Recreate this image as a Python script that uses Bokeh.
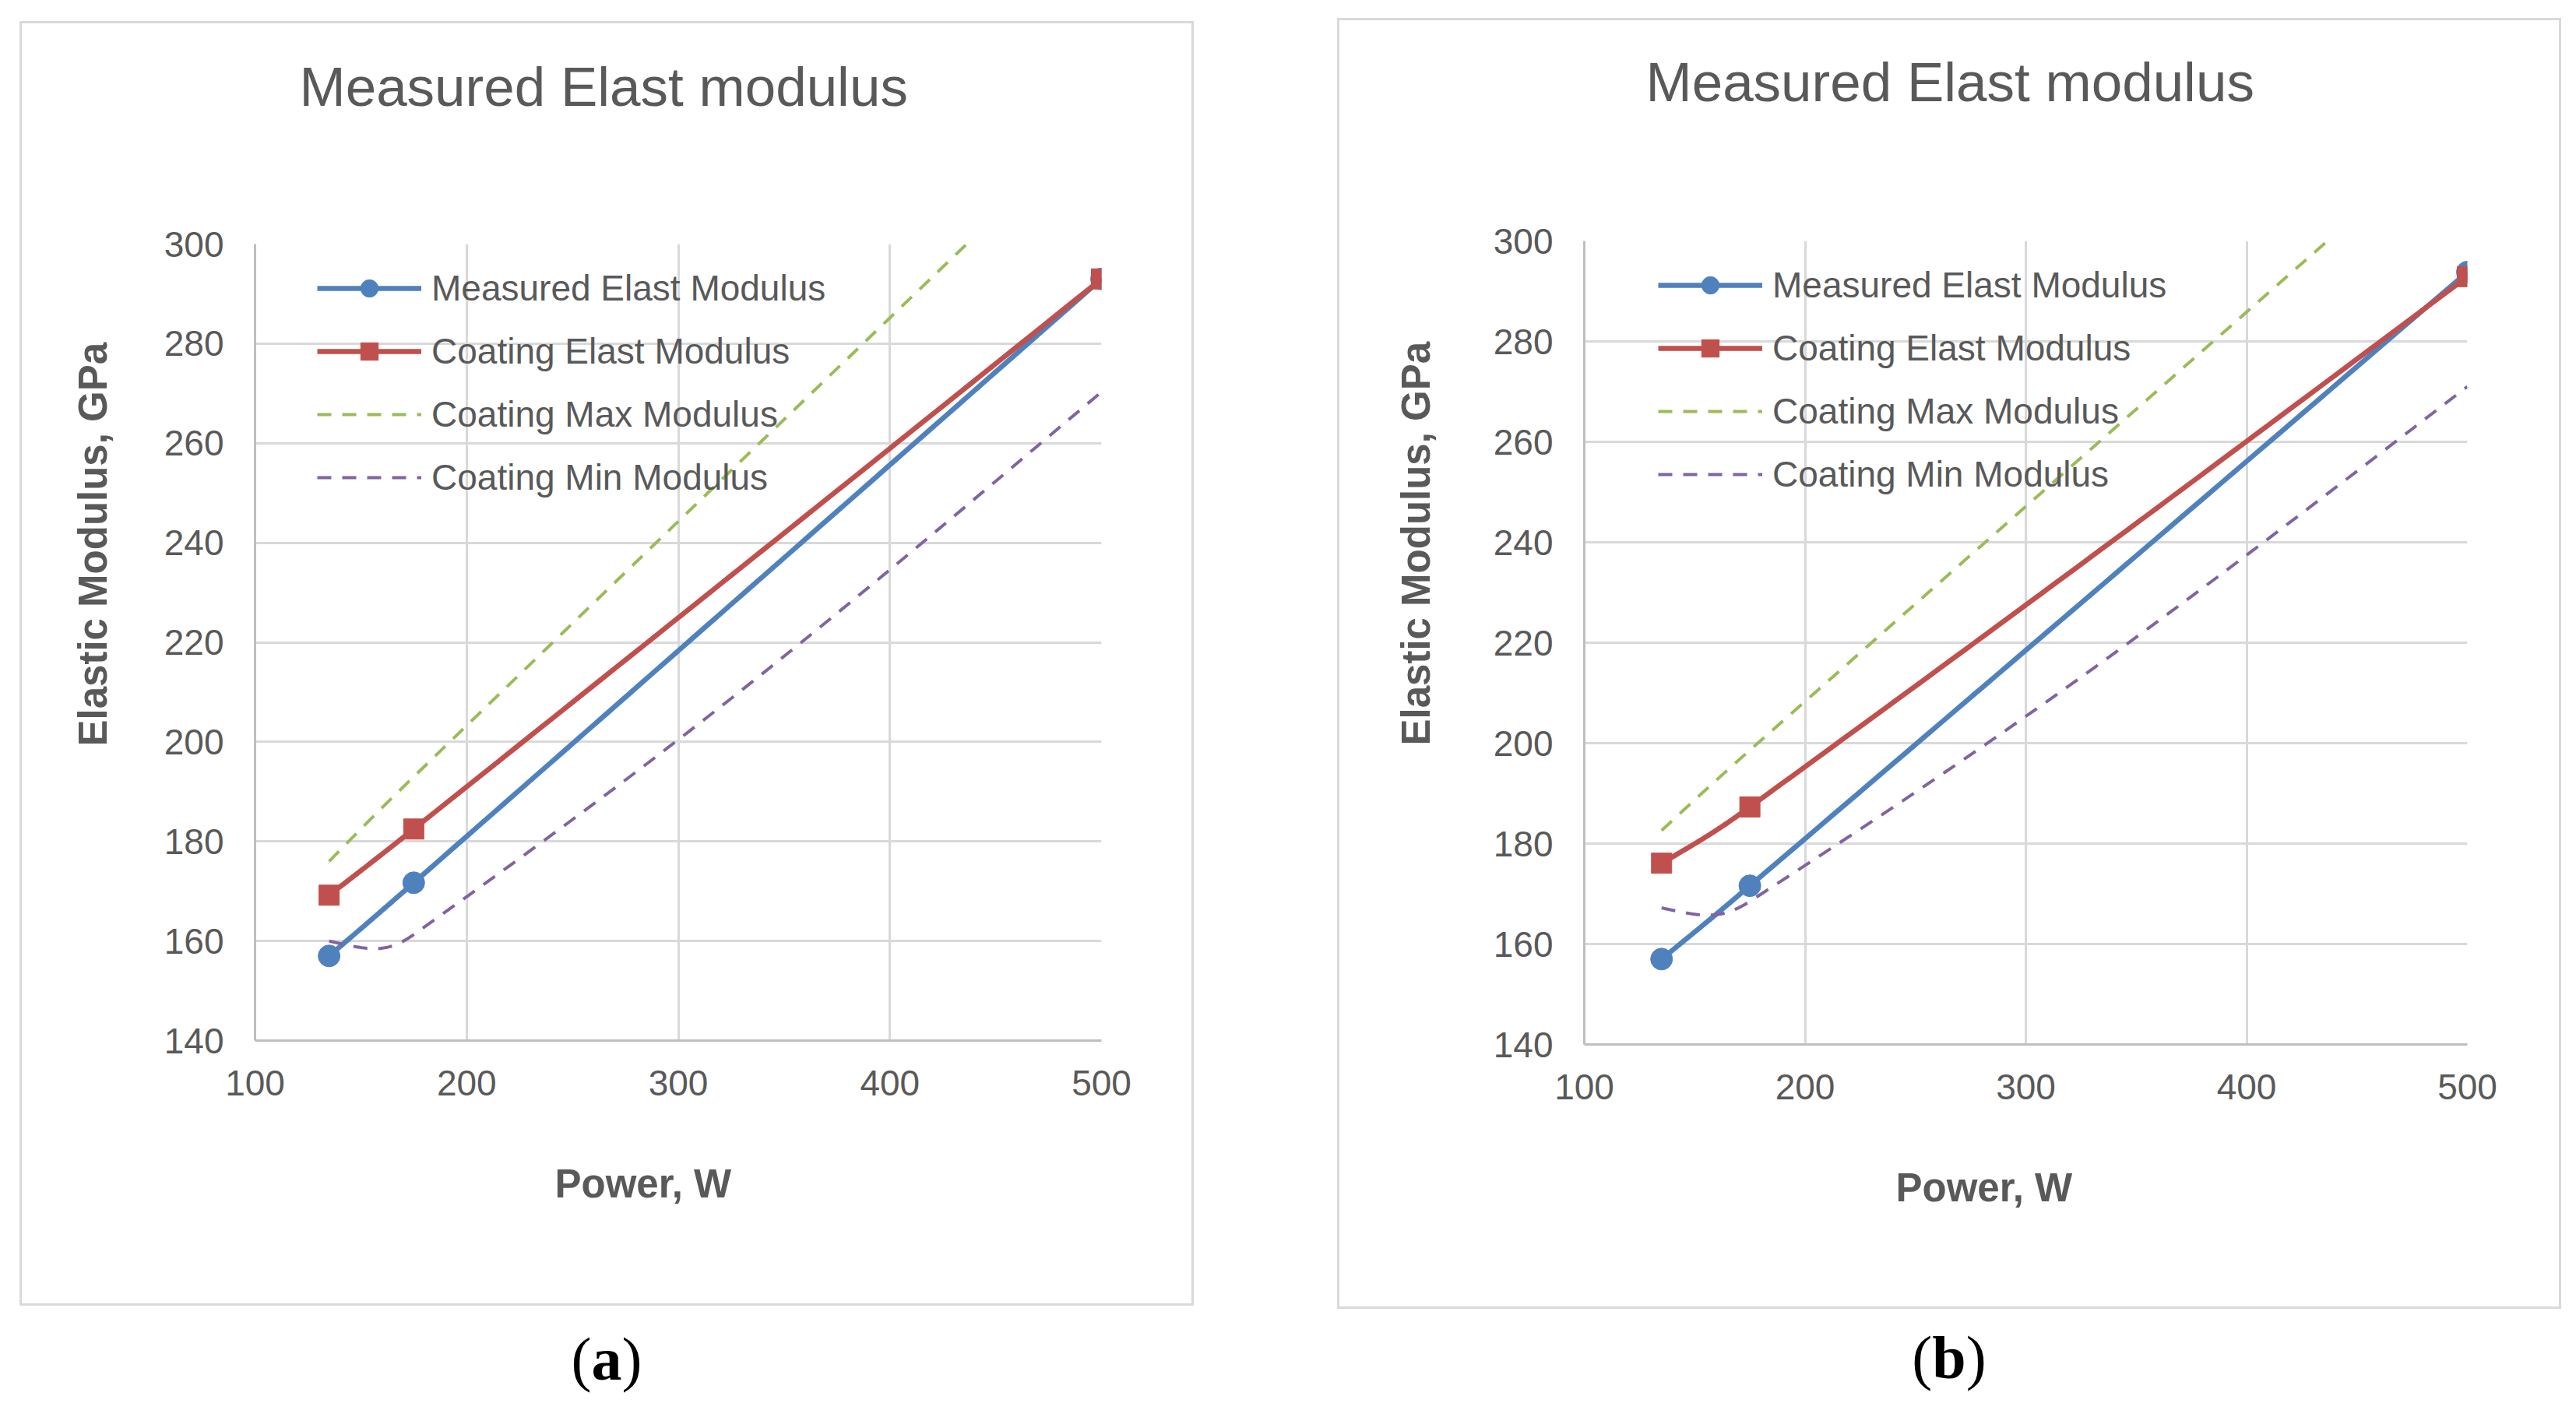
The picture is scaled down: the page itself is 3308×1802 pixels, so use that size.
import math
from bokeh.plotting import figure
from bokeh.models import Range1d, FixedTicker, Legend, LegendItem, Title, Div
from bokeh.layouts import row, column
from bokeh.embed import file_html
from bokeh.resources import INLINE

# ---------------- data ----------------
power = [135, 175, 500]

measured_a = [157.0, 171.7, 293.0]
coating_a = [169.2, 182.5, 293.0]
max_a = [176.0, 193.0, 326.0]
min_a = [160.0, 161.3, 270.3]

measured_b = [157.0, 171.6, 293.8]
coating_b = [176.1, 187.3, 292.9]
max_b = [182.6, 198.6, 324.5]
min_b = [167.2, 168.5, 271.0]

x_ticks = [100, 200, 300, 400, 500]
y_ticks = [140, 160, 180, 200, 220, 240, 260, 280, 300]
series_names = ["Measured Elast Modulus", "Coating Elast Modulus",
                "Coating Max Modulus", "Coating Min Modulus"]
chart_title = "Measured Elast modulus"
x_title = "Power, W"
y_title = "Elastic Modulus, GPa"
panel_tags = ["a", "b"]

# ---------------- styling ----------------
GREY_TXT = "#595959"
GRID = "#d9d9d9"
AXIS = "#bfbfbf"
BLUE, RED, GREEN, PURPLE = "#4F81BD", "#C0504D", "#9BBB59", "#8064A2"
SANS = "Liberation Sans"
SERIF = "Liberation Serif"


def smooth_path(xs, ys, kx, ky, n=60):
    """Excel-like smoothed line through the data points (drawing helper)."""
    P = [(x * kx, y * ky) for x, y in zip(xs, ys)]
    N = len(P)
    c_in = [None] * N
    c_out = [None] * N
    for i in range(1, N - 1):
        dx = P[i + 1][0] - P[i - 1][0]
        dy = P[i + 1][1] - P[i - 1][1]
        L = math.hypot(dx, dy)
        ux, uy = dx / L, dy / L
        lin = math.hypot(P[i][0] - P[i - 1][0], P[i][1] - P[i - 1][1]) * 0.4
        lout = math.hypot(P[i + 1][0] - P[i][0], P[i + 1][1] - P[i][1]) * 0.4
        c_in[i] = (P[i][0] - ux * lin, P[i][1] - uy * lin)
        c_out[i] = (P[i][0] + ux * lout, P[i][1] + uy * lout)
    if N > 2:
        c_out[0] = (P[0][0] + 0.7 * (c_in[1][0] - P[0][0]), P[0][1] + 0.7 * (c_in[1][1] - P[0][1]))
        c_in[N - 1] = (P[-1][0] + 0.7 * (c_out[N - 2][0] - P[-1][0]),
                       P[-1][1] + 0.7 * (c_out[N - 2][1] - P[-1][1]))
    else:
        c_out[0] = P[0]
        c_in[N - 1] = P[-1]
    outx, outy = [], []
    for i in range(N - 1):
        p0, p1, p2, p3 = P[i], c_out[i], c_in[i + 1], P[i + 1]
        for k in range(n + 1):
            if i > 0 and k == 0:
                continue
            t = k / n
            a, b, c, d = (1 - t) ** 3, 3 * (1 - t) ** 2 * t, 3 * (1 - t) * t ** 2, t ** 3
            outx.append((a * p0[0] + b * p1[0] + c * p2[0] + d * p3[0]) / kx)
            outy.append((a * p0[1] + b * p1[1] + c * p2[1] + d * p3[1]) / ky)
    return outx, outy


def make_panel(cfg, meas, coat, mx, mn):
    p = figure(width=cfg["w"], height=cfg["h"], title=None,
               x_range=Range1d(100, 500), y_range=Range1d(140, 300),
               output_backend="svg", toolbar_location=None,
               min_border_left=cfg["mbl"], min_border_right=cfg["mbr"],
               min_border_top=cfg["mbt"], min_border_bottom=cfg["mbb"],
               margin=cfg["margin"],
               styles={"outline": "3px solid #d9d9d9"})
    p.outline_line_color = None
    p.background_fill_color = "white"
    p.border_fill_color = "white"

    p.xaxis.ticker = FixedTicker(ticks=x_ticks)
    p.yaxis.ticker = FixedTicker(ticks=y_ticks)
    for ax in (p.xaxis, p.yaxis):
        ax.major_tick_line_color = None
        ax.minor_tick_line_color = None
        ax.major_tick_out = 0
        ax.major_tick_in = 0
        ax.minor_tick_out = 0
        ax.minor_tick_in = 0
        ax.major_label_text_font = SANS
        ax.major_label_text_font_size = "46px"
        ax.major_label_text_color = GREY_TXT
        ax.axis_line_color = AXIS
        ax.axis_line_width = 3
    p.xaxis.major_label_standoff = 38
    p.yaxis.major_label_standoff = 40
    for g in (p.xgrid, p.ygrid):
        g.grid_line_color = GRID
        g.grid_line_width = 3

    kx = cfg["fw"] / 400.0
    ky = cfg["fh"] / 160.0

    specs = [
        (series_names[0], meas, BLUE, "solid", 6.5, "circle", 28),
        (series_names[1], coat, RED, "solid", 6.5, "square", 26),
        (series_names[2], mx, GREEN, "18 14", 4, None, 0),
        (series_names[3], mn, PURPLE, "18 14", 4, None, 0),
    ]
    items = []
    for name, ys, color, dash, lw, marker, msize in specs:
        sx, sy = smooth_path(power, ys, kx, ky)
        lr = p.line(sx, sy, line_color=color, line_width=lw, line_dash=dash,
                    line_join="round", line_cap="butt")
        rs = [lr]
        if marker:
            sr = p.scatter(power, ys, marker=marker, size=msize,
                           fill_color=color, line_color=color)
            rs.append(sr)
        items.append(LegendItem(label=name, renderers=rs))

    legend = Legend(items=items, location=cfg["leg"],
                    glyph_width=134, glyph_height=56, label_height=56,
                    spacing=25, padding=0, margin=0, label_standoff=13,
                    border_line_color=None, background_fill_alpha=0,
                    label_text_font=SANS, label_text_font_size="46px",
                    label_text_color=GREY_TXT)
    p.add_layout(legend)

    # chart title: a blank spacer title next to the frame, then the real title above it
    p.add_layout(Title(text=" ", text_font_size="10px", standoff=cfg["sp_so"],
                       text_color="white"), "above")
    p.add_layout(Title(text=chart_title, align="left", offset=cfg["t_off"],
                       vertical_align="bottom", standoff=0,
                       text_font=SANS, text_font_size="71px", text_font_style="normal",
                       text_color=GREY_TXT), "above")
    # axis titles
    p.add_layout(Title(text=y_title, align="left", offset=cfg["y_off"],
                       vertical_align="bottom", standoff=cfg["y_so"],
                       text_font=SANS, text_font_size="51px", text_font_style="bold",
                       text_color=GREY_TXT), "left")
    p.add_layout(Title(text=x_title, align="left", offset=cfg["x_off"],
                       vertical_align="top", standoff=cfg["x_so"],
                       text_font=SANS, text_font_size="51px", text_font_style="bold",
                       text_color=GREY_TXT), "below")
    return p


def make_tag(cfg, tag):
    return Div(text="(<b>%s</b>)" % tag, width=cfg["w"], height=80, margin=cfg["tag_margin"],
               styles={"font-family": "'Liberation Serif', serif", "font-size": "78px",
                       "line-height": "1", "text-align": "center", "color": "black"})


cfg_a = dict(w=1502, h=1644, mbl=299, mbr=116, mbt=283, mbb=338, fw=1087, fh=1023,
             margin=(30, 0, 0, 28), t_off=57, sp_so=150, y_off=378, y_so=120,
             x_off=385, x_so=165, leg=(80, 695), tag_margin=(33, 0, 0, 28))
cfg_b = dict(w=1566, h=1652, mbl=312, mbr=118, mbt=283, mbb=337, fw=1136, fh=1032,
             margin=(26, 0, 0, 190), t_off=79, sp_so=152, y_off=384, y_so=135,
             x_off=400, x_so=164, leg=(95, 704), tag_margin=(27, 0, 0, 190))

p_a = make_panel(cfg_a, measured_a, coating_a, max_a, min_a)
p_b = make_panel(cfg_b, measured_b, coating_b, max_b, min_b)
tag_a = make_tag(cfg_a, panel_tags[0])
tag_b = make_tag(cfg_b, panel_tags[1])

layout = row(column(p_a, tag_a, spacing=0), column(p_b, tag_b, spacing=0), spacing=0)
open("out.html", "w").write(file_html(layout, INLINE))
